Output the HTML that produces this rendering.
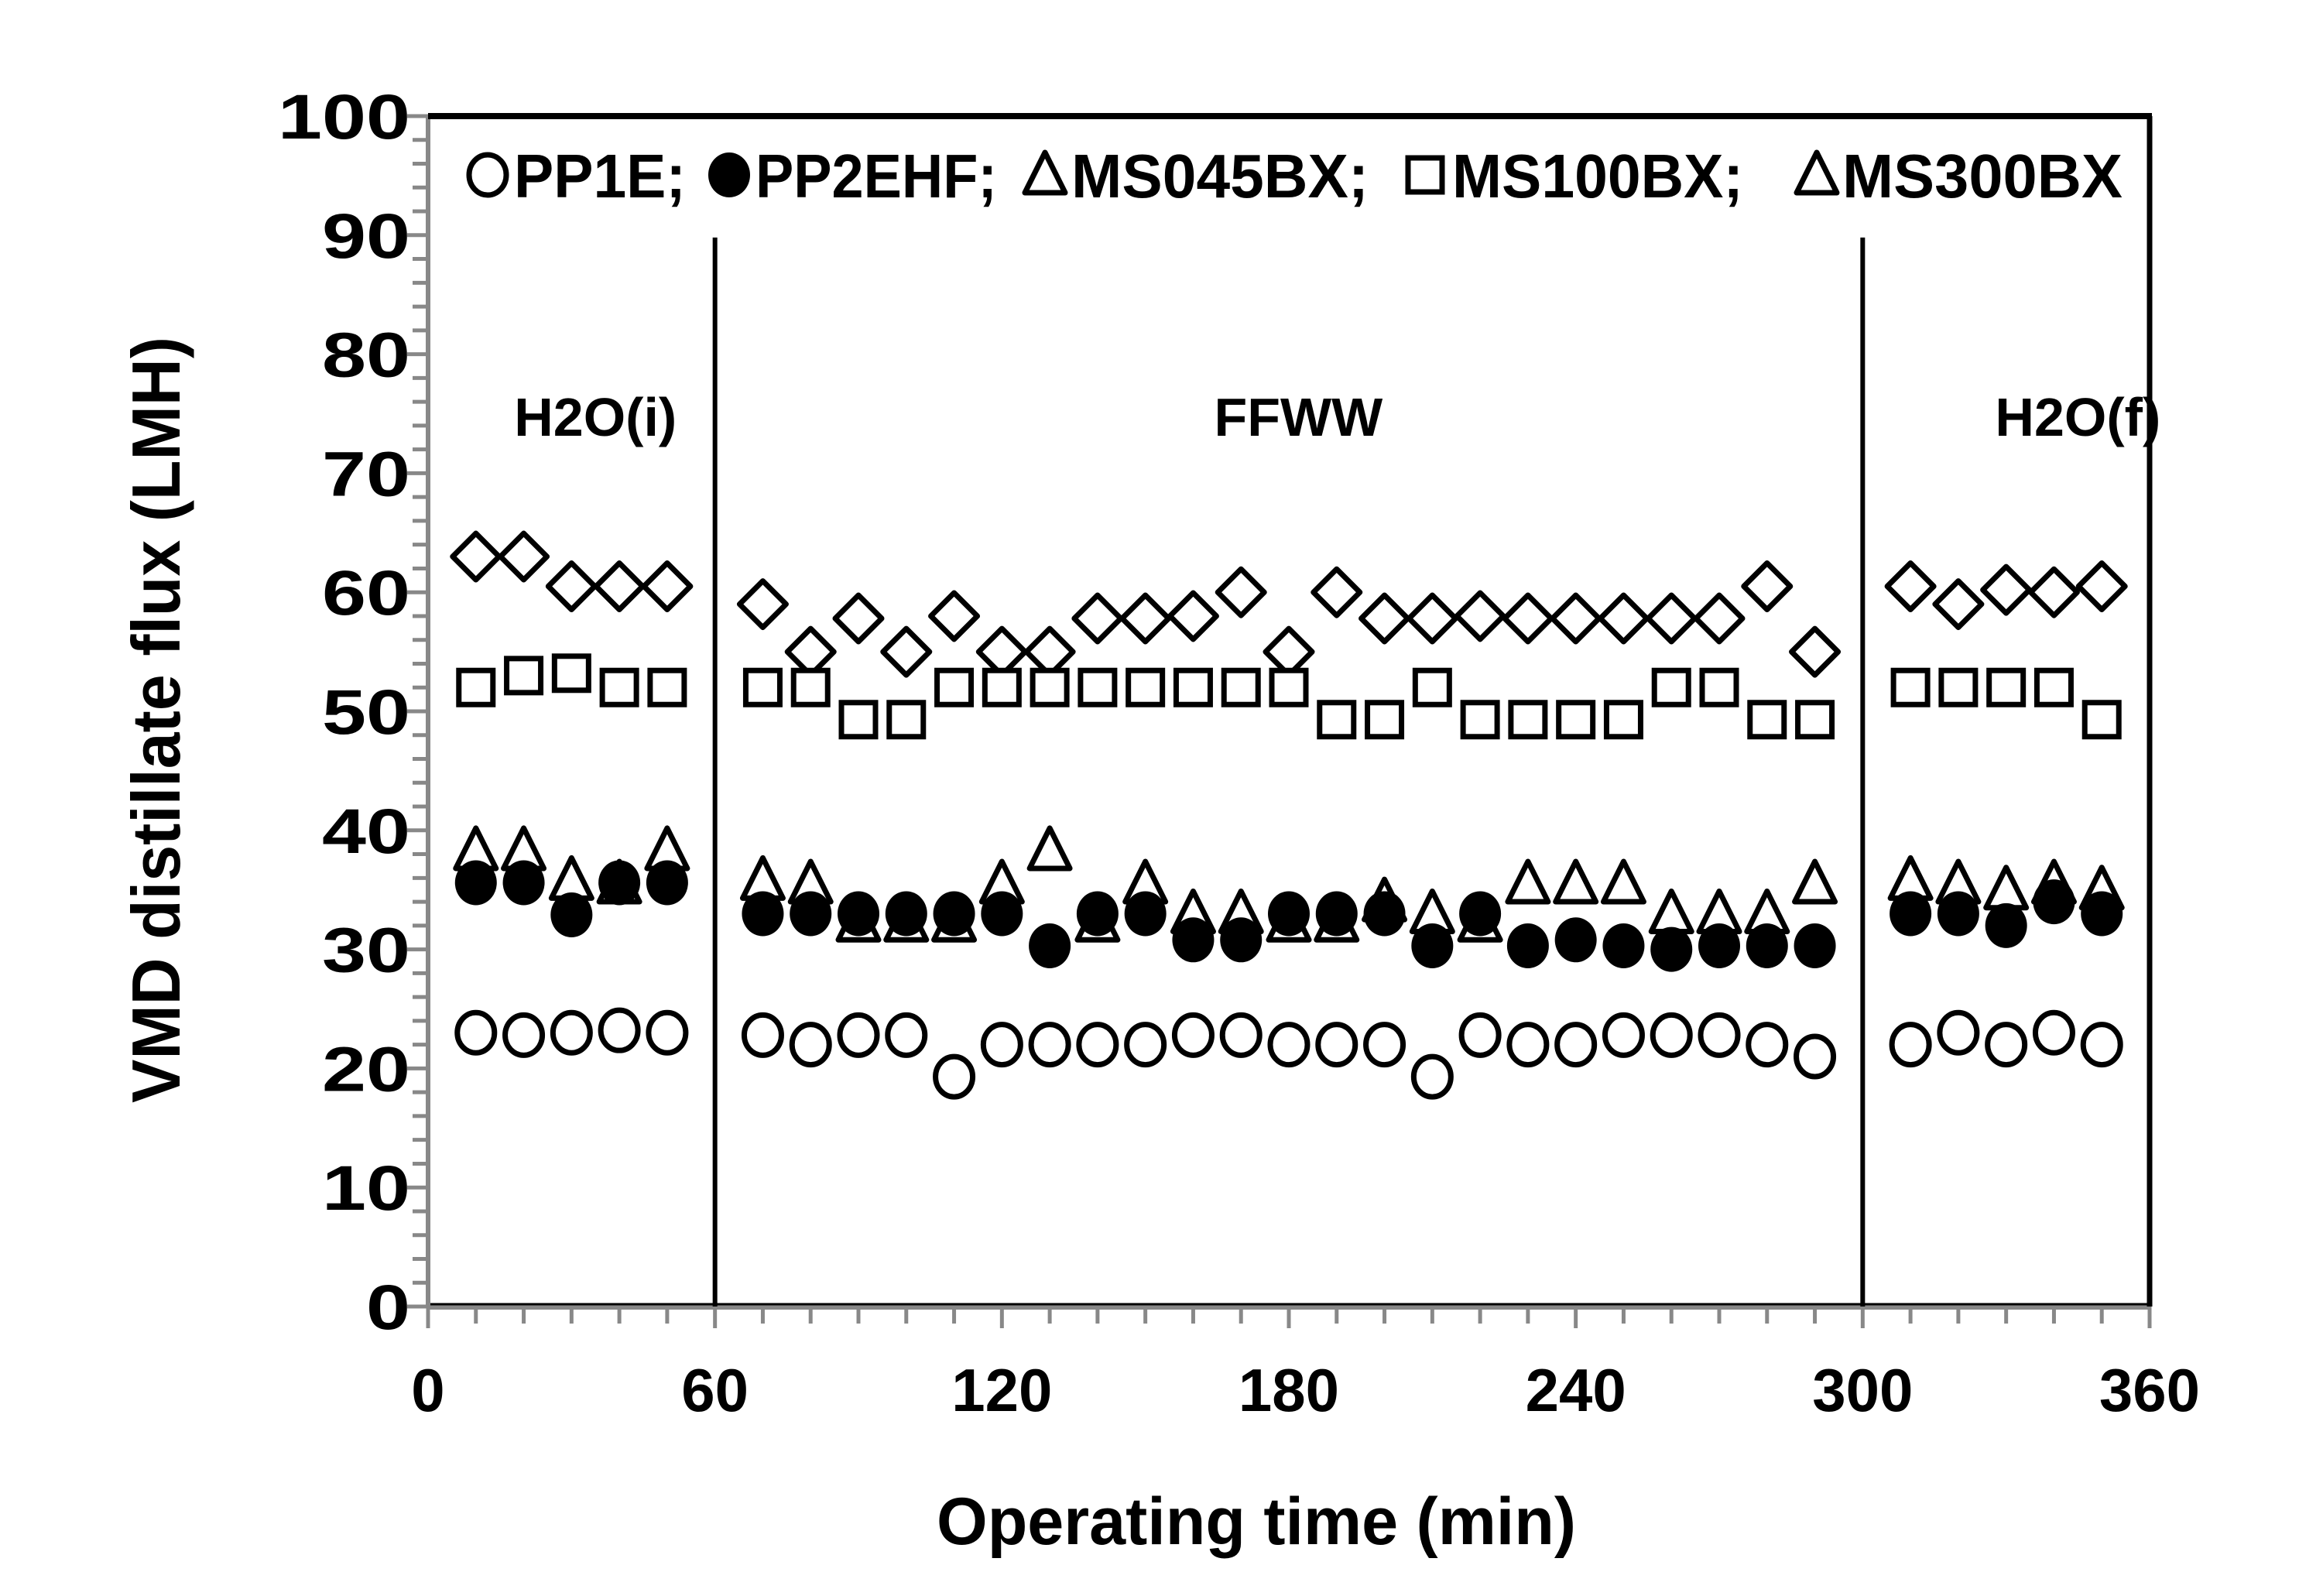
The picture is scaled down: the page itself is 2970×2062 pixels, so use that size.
<!DOCTYPE html>
<html><head><meta charset="utf-8"><style>
html,body{margin:0;padding:0;background:#fff;}
svg{display:block;font-family:"Liberation Sans",sans-serif;font-weight:bold;}
</style></head><body>
<svg id="chart" width="2970" height="2062" viewBox="0 0 2970 2062" xmlns="http://www.w3.org/2000/svg">
<g id="axes"></g>
<g id="marks"></g>
<g id="legend"></g>
</svg>
<script>
const timesI = [10,20,30,40,50];
const timesF = [70,80,90,100,110,120,130,140,150,160,170,180,190,200,210,220,230,240,250,260,270,280,290];
const timesE = [310,320,330,340,350];
const diamondVals = [63,63,60.5,60.5,60.5, 59,55,57.8,55,58,55,55,57.8,57.8,58,60,55,60,57.8,57.8,58,57.8,57.8,57.8,57.8,57.8,60.5,55, 60.5,59,60.2,60,60.5];
const squareVals = [52,53,53.2,52,52, 52,52,49.3,49.3,52,52,52,52,52,52,52,52,49.3,49.3,52,49.3,49.3,49.3,49.3,52,52,49.3,49.3, 52,52,52,52,49.3];
const triangleVals = [38.3,38.3,35.8,35.5,38.3, 35.8,35.5,32.3,32.3,32.3,35.5,38.3,32.3,35.5,33,33,32.3,32.3,34,33,32.3,35.5,35.5,35.5,33,33,33,35.5, 35.8,35.5,35,35.5,35];
const filledVals = [35.6,35.6,32.9,35.6,35.6, 33,33,33,33,33,33,30.3,33,33,30.8,30.8,33,33,33,30.3,33,30.3,30.8,30.3,30,30.3,30.3,30.3, 33,33,32,34,33];
const openVals = [23,22.8,23,23.2,23, 22.8,22,22.8,22.8,19.3,22,22,22,22,22.8,22.8,22,22,22,19.3,22.8,22,22,22.8,22.8,22.8,22,21, 22,23,22,23,22];
const xTicks = [0,60,120,180,240,300,360];
const yTicks = [0,10,20,30,40,50,60,70,80,90,100];
const phaseBounds = [60,300];
const phaseLabels = ["H2O(i)","FFWW","H2O(f)"];
const phaseLabelX = [35,182,345];

const NS="http://www.w3.org/2000/svg";
const X0=553,X1=2777,Y0=1688,Y1=150;
const sx=v=>X0+(v-0)/(360-0)*(X1-X0);
const sy=v=>Y0-(v-0)/(100-0)*(Y0-Y1);
const times=timesI.concat(timesF,timesE);
function el(tag,attrs,parent,text){const e=document.createElementNS(NS,tag);for(const k in attrs)e.setAttribute(k,attrs[k]);if(text!==undefined)e.textContent=text;parent.appendChild(e);return e;}
const axes=document.getElementById('axes'),marks=document.getElementById('marks'),legend=document.getElementById('legend');

for(let v=0;v<=100;v+=2){const t=el('line',{x1:v%10===0?526:533,x2:X0,y1:sy(v),y2:sy(v),stroke:'#888','stroke-width':5},axes);

}
for(let v=0;v<=360;v+=10){const t=el('line',{x1:sx(v),x2:sx(v),y1:Y0,y2:v%60===0?1716:1710,stroke:'#888','stroke-width':5},axes);

}
const f1=el('line',{x1:X0,x2:X0,y1:Y1,y2:Y0,stroke:'#888','stroke-width':6},axes);


const f2=el('line',{x1:X0,x2:X1,y1:Y0,y2:Y0,stroke:'#888','stroke-width':8},axes);


el('line',{x1:X0+3,x2:X1,y1:Y0-3,y2:Y0-3,stroke:'#000','stroke-width':3},axes);
const f3=el('line',{x1:X0,x2:X1+3,y1:Y1,y2:Y1,stroke:'#000','stroke-width':8},axes);


const f4=el('line',{x1:X1,x2:X1,y1:Y1,y2:Y0,stroke:'#000','stroke-width':7},axes);


yTicks.forEach(v=>{const s=String(v);const t=el('text',{x:530,y:sy(v)+29,'font-size':82,'text-anchor':'end',textLength:57*s.length,lengthAdjust:'spacingAndGlyphs'},axes,s);

});
xTicks.forEach(v=>{const t=el('text',{x:sx(v),y:1823,'font-size':78,'text-anchor':'middle'},axes,String(v));

});
const yt=el('text',{x:0,y:0,'font-size':88,'text-anchor':'middle',transform:'translate(232,930) rotate(-90)',textLength:990,lengthAdjust:'spacingAndGlyphs'},axes,'VMD distillate flux (LMH)');


const xt=el('text',{x:1623,y:1995,'font-size':86,'text-anchor':'middle',textLength:826,lengthAdjust:'spacingAndGlyphs'},axes,'Operating time (min)');


phaseBounds.forEach(v=>{const l=el('line',{x1:sx(v),x2:sx(v),y1:sy(89.8),y2:Y0,stroke:'#000','stroke-width':6},axes);

});
phaseLabels.forEach((s,i)=>{const t=el('text',{x:sx(phaseLabelX[i]),y:563,'font-size':70,'text-anchor':'middle'},axes,s);

});

function marker(type,cx,cy,parent){
  const sw=7;
  if(type==='open') return el('ellipse',{cx,cy,rx:24,ry:26,fill:'#fff',stroke:'#000','stroke-width':sw},parent);
  if(type==='filled') return el('ellipse',{cx,cy,rx:27,ry:29,fill:'#000'},parent);
  if(type==='square') return el('rect',{x:cx-22,y:cy-22,width:44,height:44,fill:'#fff',stroke:'#000','stroke-width':sw},parent);
  if(type==='diamond') return el('polygon',{points:`${cx},${cy-30} ${cx+30},${cy} ${cx},${cy+30} ${cx-30},${cy}`,fill:'#fff',stroke:'#000','stroke-width':sw,'stroke-linejoin':'round'},parent);
  if(type==='triangle') return el('polygon',{points:`${cx},${cy-29} ${cx+26},${cy+23} ${cx-26},${cy+23}`,fill:'none',stroke:'#000','stroke-width':sw,'stroke-linejoin':'round'},parent);
}
const series=[['diamond',diamondVals,'ms300bx'],['square',squareVals,'ms100bx'],['triangle',triangleVals,'ms045bx'],['filled',filledVals,'pp2ehf'],['open',openVals,'pp1e']];
series.forEach(([type,vals,nm])=>{
  const g=el('g',{},marks);
  
  
  vals.forEach((v,i)=>{const m=marker(type,sx(times[i]),sy(v),g);
    
    });
});
const ly=226;
[['open',630],['filled',942],['triangle',1350],['square',1841],['triangle',2347]].forEach(([t,x])=>{const m=marker(t,x,ly,legend);

});
[['PP1E;',664,222],['PP2EHF;',976,312],['MS045BX;',1384,384],['MS100BX;',1876,376],['MS300BX',2380,362]].forEach(([s,x,w])=>{const t=el('text',{x,y:ly+29,'font-size':80,textLength:w,lengthAdjust:'spacingAndGlyphs'},legend,s);

});
</script>
</body></html>
